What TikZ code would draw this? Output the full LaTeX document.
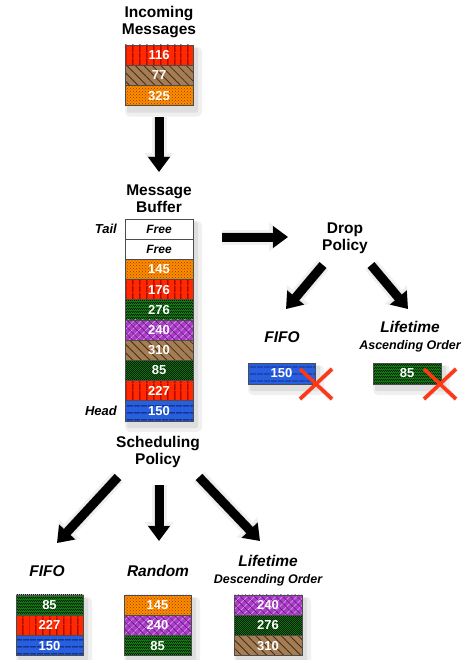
\documentclass[tikz,border=0pt]{standalone}
\usepackage{fontspec}
\setmainfont{Liberation Sans}
\usetikzlibrary{arrows.meta,patterns,patterns.meta}
\pgfdeclarelayer{bg}
\pgfsetlayers{bg,main}
\pgfdeclarepatternformonly{finecheck}{\pgfqpoint{0pt}{0pt}}{\pgfqpoint{2.4pt}{2.4pt}}{\pgfqpoint{2.4pt}{2.4pt}}{%
  \pgfpathrectangle{\pgfqpoint{0pt}{0pt}}{\pgfqpoint{1.2pt}{1.2pt}}%
  \pgfpathrectangle{\pgfqpoint{1.2pt}{1.2pt}}{\pgfqpoint{1.2pt}{1.2pt}}%
  \pgfusepath{fill}}
\definecolor{cred}{RGB}{255,40,0}
\definecolor{credd}{RGB}{130,0,0}
\definecolor{cbrown}{RGB}{165,125,85}
\definecolor{cbrownd}{RGB}{70,45,20}
\definecolor{corange}{RGB}{255,140,0}
\definecolor{coranged}{RGB}{140,60,0}
\definecolor{cgreen}{RGB}{20,125,20}
\definecolor{cgreend}{RGB}{0,30,0}
\definecolor{cpurple}{RGB}{170,60,200}
\definecolor{cpurplel}{RGB}{215,150,235}
\definecolor{cpurpled}{RGB}{90,20,110}
\definecolor{cblue}{RGB}{40,95,225}
\definecolor{cblued}{RGB}{10,30,100}
\definecolor{xred}{RGB}{255,55,20}
\tikzset{
  title/.style={font=\fontsize{15.5}{17}\selectfont\bfseries, align=center, inner sep=0pt},
  lab/.style={font=\fontsize{15.5}{17}\selectfont\bfseries\itshape, inner sep=0pt},
  sub/.style={font=\fontsize{12.5}{14}\selectfont\bfseries\itshape, inner sep=0pt},
  endlab/.style={font=\fontsize{13}{15}\selectfont\bfseries\itshape, inner sep=0pt, anchor=east},
  cell/.style={minimum width=68pt, minimum height=20.3pt, inner sep=0pt, outer sep=0pt,
    text=white, font=\fontsize{13}{15}\selectfont\bfseries},
  edge/.style={postaction={draw=black!70, line width=0.6pt}},
  freec/.style={cell, fill=white, text=black, font=\fontsize{12}{14}\selectfont\bfseries\itshape, edge},
  redc/.style={cell, fill=cred, postaction={pattern={Lines[angle=90,distance=6.5pt,line width=1pt]}, pattern color=credd}, edge},
  brownc/.style={cell, fill=cbrown, postaction={pattern={Lines[angle=-45,distance=6pt,line width=0.8pt]}, pattern color=cbrownd}, edge},
  orangec/.style={cell, fill=corange, postaction={pattern=crosshatch dots, pattern color=coranged}, edge},
  greenc/.style={cell, fill=cgreen, postaction={pattern=finecheck, pattern color=cgreend}, edge},
  purplec/.style={cell, fill=cpurple, postaction={pattern={Lines[angle=45,distance=5pt,line width=0.7pt]}, pattern color=cpurplel}, postaction={pattern={Lines[angle=-45,distance=5pt,line width=0.5pt]}, pattern color=cpurpled}, edge},
  bluec/.style={cell, fill=cblue, postaction={pattern={Lines[angle=0,distance=6.5pt,line width=0.9pt]}, pattern color=cblued}, edge},
  bigarrow/.style={line width=9pt, draw=black, -{Triangle[width=21pt,length=15pt]}},
  shadA/.style={line width=15pt, draw=black!6, -{Triangle[width=28pt,length=19pt]}, shift={(3,5)}},
  shadB/.style={line width=10pt, draw=black!14, -{Triangle[width=23pt,length=16pt]}, shift={(3,4)}},
  xmark/.style={draw=xred, line width=3.6pt},
  xshad/.style={draw=black!12, line width=5pt, shift={(3,4)}},
}
\newcommand\stackshadow[2]{%
  \fill[black!6, rounded corners=5pt] ([shift={(0,2)}]#1.north west) rectangle ([shift={(9,11)}]#2.south east);
  \fill[black!13, rounded corners=2pt] ([shift={(2,3)}]#1.north west) rectangle ([shift={(5,7)}]#2.south east);
}
\newcommand\bigarr[2]{%
  \begin{pgfonlayer}{bg}
  \draw[shadA] (#1) -- (#2);
  \draw[shadB] (#1) -- (#2);
  \end{pgfonlayer}
  \draw[bigarrow] (#1) -- (#2);
}
\newcommand\redx[1]{%
  \begin{pgfonlayer}{bg}
  \draw[xshad] ([shift={(-16,-15)}]#1) -- ([shift={(16,15)}]#1);
  \draw[xshad] ([shift={(-16,15)}]#1) -- ([shift={(16,-15)}]#1);
  \end{pgfonlayer}
  \draw[xmark] ([shift={(-16,-15)}]#1) -- ([shift={(16,15)}]#1);
  \draw[xmark] ([shift={(-16,15)}]#1) -- ([shift={(16,-15)}]#1);
}
\begin{document}
\begin{tikzpicture}[x=1pt,y=-1pt]
\useasboundingbox (0,0) rectangle (466,660);

% titles
\node[title] (inc) at (159,22) {Incoming\\Messages};
\node[title] (mbt) at (159,199) {Message\\Buffer};
\node[title] (dpt) at (345,238) {Drop\\Policy};
\node[title] (spt) at (158,452) {Scheduling\\Policy};

% incoming messages
\node[redc] (in1) at (159,55) {116};
\node[brownc] (in2) at (159,75.3) {77};
\node[orangec] (in3) at (159,95.6) {325};

% buffer
\node[freec] (b1) at (159,229.1) {Free};
\node[freec] (b2) at (159,249.3) {Free};
\node[orangec] (b3) at (159,269.5) {145};
\node[redc] (b4) at (159,289.7) {176};
\node[greenc] (b5) at (159,309.9) {276};
\node[purplec] (b6) at (159,330.1) {240};
\node[brownc] (b7) at (159,350.3) {310};
\node[greenc] (b8) at (159,370.5) {85};
\node[redc] (b9) at (159,390.7) {227};
\node[bluec] (b10) at (159,410.9) {150};
\node[endlab] (tail) at (117,229) {Tail};
\node[endlab] (head) at (117,411) {Head};

% drop policy
\node[lab] (dfl) at (282,337) {FIFO};
\node[lab] (dll) at (410,327) {Lifetime};
\node[sub] (dla) at (410,346) {Ascending Order};
\node[bluec, minimum width=67pt, minimum height=21pt] (df) at (281.5,373.5) {150};
\node[greenc, minimum width=68pt, minimum height=21pt] (dl) at (407,373.5) {85};

% scheduling policy
\node[lab] (sfl) at (47,571) {FIFO};
\node[lab] (srl) at (158,571) {Random};
\node[lab] (sll) at (268,561) {Lifetime};
\node[sub] (sld) at (268,580) {Descending Order};

\node[greenc, minimum width=67pt] (f1) at (49.5,605) {85};
\node[redc, minimum width=67pt] (f2) at (49.5,625.3) {227};
\node[bluec, minimum width=67pt] (f3) at (49.5,645.6) {150};

\node[orangec, minimum width=67pt] (r1) at (157.5,605) {145};
\node[purplec, minimum width=67pt] (r2) at (157.5,625.3) {240};
\node[greenc, minimum width=67pt] (r3) at (157.5,645.6) {85};

\node[purplec, minimum width=68pt] (l1) at (268,605) {240};
\node[greenc, minimum width=68pt] (l2) at (268,625.3) {276};
\node[brownc, minimum width=68pt] (l3) at (268,645.6) {310};

% shadows of stacks
\begin{pgfonlayer}{bg}
\stackshadow{in1}{in3}
\stackshadow{b1}{b10}
\stackshadow{df}{df}
\stackshadow{dl}{dl}
\stackshadow{f1}{f3}
\stackshadow{r1}{r3}
\stackshadow{l1}{l3}
\end{pgfonlayer}

% arrow end points
\coordinate (a1s) at (159,117); \coordinate (a1e) at (159,172);
\coordinate (a2s) at (222,237); \coordinate (a2e) at (288,237);
\coordinate (a3s) at (323,265); \coordinate (a3e) at (286,309);
\coordinate (a4s) at (371,265); \coordinate (a4e) at (408,309);
\coordinate (a5s) at (118,477); \coordinate (a5e) at (57,543);
\coordinate (a6s) at (159,485); \coordinate (a6e) at (159,541);
\coordinate (a7s) at (199,477); \coordinate (a7e) at (260,541);

\bigarr{a1s}{a1e}
\bigarr{a2s}{a2e}
\bigarr{a3s}{a3e}
\bigarr{a4s}{a4e}
\bigarr{a5s}{a5e}
\bigarr{a6s}{a6e}
\bigarr{a7s}{a7e}

% drop marks
\coordinate (x1) at (316,384);
\coordinate (x2) at (440,384);
\redx{x1}
\redx{x2}
\end{tikzpicture}
\end{document}
